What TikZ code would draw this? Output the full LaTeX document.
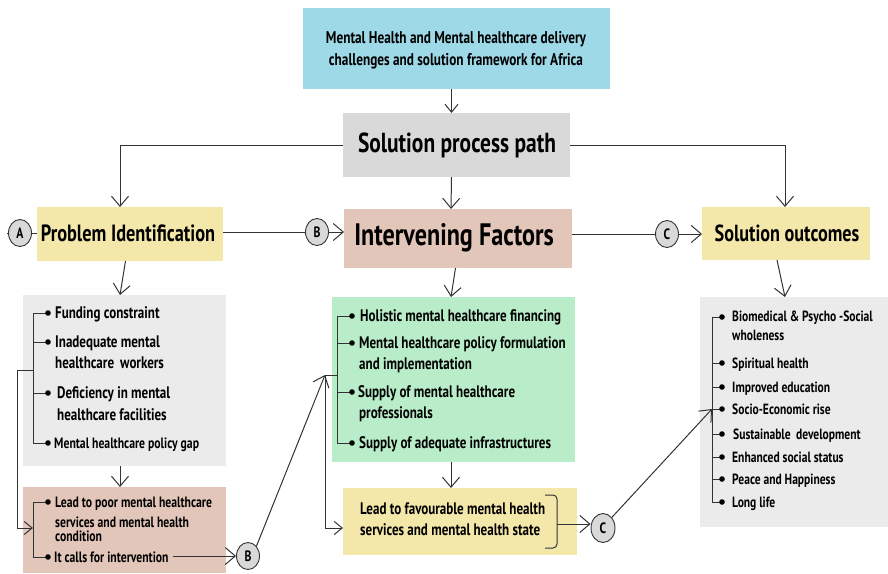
\documentclass[tikz,border=0pt]{standalone}
\usepackage{fontspec}
\setmainfont{PT Sans}[FakeStretch=0.78]
\usetikzlibrary{arrows.meta,shapes.geometric}
\definecolor{cyanbox}{HTML}{9ED9E8}
\definecolor{graybox}{HTML}{D9D9D9}
\definecolor{yellowbox}{HTML}{F4E7AA}
\definecolor{pinkbox}{HTML}{E3C6BA}
\definecolor{greenbox}{HTML}{B9EDC9}
\definecolor{lightbox}{HTML}{EBEBEB}
\definecolor{ink}{HTML}{333333}
\begin{document}
\begin{tikzpicture}[x=1pt,y=-1pt,
  box/.style={draw=none,inner sep=0,outer sep=0},
  lbl/.style={inner sep=0,font=\bfseries},
  itm/.style={anchor=base west,inner sep=0,font=\bfseries\fontsize{16.7}{19}\selectfont},
  itmp/.style={anchor=base west,inner sep=0,font=\bfseries\fontsize{15}{17}\selectfont},
  itms/.style={anchor=base west,inner sep=0,font=\bfseries\fontsize{14.8}{17}\selectfont},
  circ/.style={ellipse,draw=ink,line width=0.9pt,fill=graybox,minimum width=23,minimum height=27,inner sep=0,font=\bfseries\fontsize{15}{17}\selectfont},
  ln/.style={draw=ink,line width=1pt},
  arr/.style={ln,-{Straight Barb[length=10pt,width=17pt,line width=1pt]}},
  sarr/.style={ln,-{Straight Barb[length=8pt,width=13pt,line width=1pt]}}
]
\useasboundingbox (0,0) rectangle (888,573);
% boxes
\node[box,fill=cyanbox,minimum width=307,minimum height=81] (top) at (456.5,48.5) {};
\node[lbl,align=center,font=\bfseries\fontsize{17}{22}\selectfont] (toptxt) at (456,50) {Mental Health and Mental healthcare delivery\\challenges and solution framework for Africa};
\node[box,fill=graybox,minimum width=227,minimum height=64] (spp) at (456.5,145) {};
\node[lbl,font=\bfseries\fontsize{27.5}{31}\selectfont] (spptxt) at (457,145) {Solution process path};
\node[box,fill=yellowbox,minimum width=186,minimum height=54] (pi) at (130,234) {};
\node[lbl,font=\bfseries\fontsize{23.5}{27}\selectfont] (pitxt) at (128,233) {Problem Identification};
\node[box,fill=pinkbox,minimum width=228,minimum height=59] (if) at (458,238.5) {};
\node[lbl,font=\bfseries\fontsize{31}{35}\selectfont] (iftxt) at (454,238) {Intervening Factors};
\node[box,fill=yellowbox,minimum width=168,minimum height=53] (so) at (786,233.5) {};
\node[lbl,font=\bfseries\fontsize{23.3}{27}\selectfont] (sotxt) at (787,233) {Solution outcomes};
\node[box,fill=lightbox,minimum width=203,minimum height=171] (gl) at (124.5,380.5) {};
\node[box,fill=pinkbox,minimum width=203,minimum height=86] (pl) at (124.5,530) {};
\node[box,fill=greenbox,minimum width=243,minimum height=165] (gr) at (453.5,379.5) {};
\node[box,fill=yellowbox,minimum width=234,minimum height=67] (yb) at (460,521.5) {};
\node[box,fill=lightbox,minimum width=188,minimum height=230] (grt) at (794,412) {};
% circles
\node[circ] (A) at (20,233) {A};
\node[circ] (B1) at (317,232) {B};
\node[circ] (C1) at (667,234) {C};
\node[circ] (B2) at (248,556) {B};
\node[circ,minimum width=24,minimum height=29] (C2) at (603,528) {C};
% top connectors
\draw[sarr] ([xshift=-5]top.south) -- ([xshift=-5]spp.north);
\draw[arr] (spp.west) -| ([xshift=-10]pi.north);
\draw[arr] (spp.east) -| ([xshift=-1]so.north);
\draw[arr] ([xshift=-5]spp.south) -- ([xshift=-7]if.north);
\coordinate (aL) at (7,233);
\draw[ln] (aL) -- (A.west);
\draw[ln] (A.east) -- (pi.west |- A.east);
\draw[ln] (pi.east |- B1.west) -- (B1.west);
\draw[arr] (B1.east) -- (if.west |- B1.east);
\draw[ln] (if.east |- C1.west) -- (C1.west);
\draw[arr] (C1.east) -- (so.west |- C1.east);
\draw[arr] ([xshift=-4.5]pi.south) -- ([xshift=-4.5]gl.north);
\draw[arr] ([xshift=-4.5]gl.south) -- ([xshift=-4.5]pl.north);
\draw[arr] ([xshift=-2.5]if.south) -- ([xshift=-2.5]gr.north);
\draw[arr] ([xshift=-2.5]gr.south) -- ([xshift=-9]yb.north);
\draw[arr] ([xshift=-9]so.south) -- ([xshift=-9]grt.north);
% left gray items
\draw[ln] (48,313) -- (33,313) -- (33,443) -- (48,443);
\draw[ln] (33,342) -- (48,342) (33,393) -- (48,393);
\foreach \y in {313,342,393,443} \fill (48,\y) circle (2.8);
\node[itm] (l1) at (55,318) {Funding constraint};
\node[itm] (l2) at (55,347) {Inadequate mental};
\node[itm] (l2b) at (55,368) {healthcare\, workers};
\node[itm] (l3) at (57,398) {Deficiency in mental};
\node[itm] (l3b) at (57,420) {healthcare facilities};
\node[itmp] (l4) at (54,448) {Mental healthcare policy gap};
% left connector
\coordinate (g1) at (33,370);
\coordinate (g2) at (17,370);
\coordinate (g3) at (17,528);
\coordinate (g4) at (33,528);
\draw[ln] (g1) -- (g2) -- (g3);
\draw[sarr] (g3) -- (g4);
% pink items
\draw[ln] (48,502) -- (33,502) -- (33,557) -- (48,557);
\foreach \y in {502,557} \fill (48,\y) circle (2.8);
\node[itmp] (p1) at (55,507) {Lead to poor mental healthcare};
\node[itmp,text depth=0pt] (p2) at (55,527) {services and mental health};
\node[itmp,text height=8pt] (p3) at (55,541) {condition};
\node[itmp] (p4) at (54,562) {It calls for intervention};
\draw[arr] ([xshift=4]p4.east |- B2.west) -- (B2.west);
% green items
\coordinate (h1) at (337,375);
\coordinate (h2) at (325,375);
\coordinate (h3) at (325,528);
\draw[ln] (352,316) -- (337,316) -- (337,443) -- (352,443);
\draw[ln] (337,343) -- (352,343) (337,392) -- (352,392) (h1) -- (h2);
\foreach \y in {316,343,392,443} \fill (352,\y) circle (2.8);
\node[itm] (m1) at (360,321) {Holistic mental healthcare financing};
\node[itm] (m2) at (359,348) {Mental healthcare policy formulation};
\node[itm] (m2b) at (359,369) {and implementation};
\node[itm] (m3) at (358,397) {Supply of mental healthcare};
\node[itm] (m3b) at (359,418) {professionals};
\node[itm] (m4) at (359,448) {Supply of adequate infrastructures};
\draw[arr] (B2.north east) -- (h2);
\draw[ln] (h2) -- (h3);
\draw[sarr] (h3) -- (yb.west |- h3);
% yellow bottom
\node[itm] (y1) at (360,514) {Lead to favourable mental health};
\node[itm] (y2) at (360,535) {services and mental health state};
\coordinate (k1) at (545,495);
\coordinate (k2) at (545,548);
\coordinate (k3) at (557,524);
\draw[ln,rounded corners=4pt] (k1) -- (557,495) -- (557,548) -- (k2);
\draw[arr] (k3) -- (C2.west |- k3);
% right items
\coordinate (r0) at (712,409);
\draw[ln] (722,317) -- (712,317) -- (712,502) -- (722,502);
\foreach \y in {363,387,409,434,457,479} \draw[ln] (712,\y) -- (722,\y);
\foreach \y in {317,363,387,409,434,457,479,502} \fill (722,\y) circle (2.8);
\draw[arr] (C2.north east) -- (r0);
\node[itms] (s1) at (732,321) {Biomedical \& Psycho -Social};
\node[itms] (s1b) at (732,340) {wholeness};
\node[itms] (s2) at (732,368) {Spiritual health};
\node[itms] (s3) at (732,392) {Improved education};
\node[itms] (s4) at (732,414) {Socio-Economic rise};
\node[itms] (s5) at (733,439) {Sustainable\, development};
\node[itms] (s6) at (732,462) {Enhanced social status};
\node[itms] (s7) at (732,484) {Peace and Happiness};
\node[itms] (s8) at (732,507) {Long life};
\end{tikzpicture}
\end{document}
